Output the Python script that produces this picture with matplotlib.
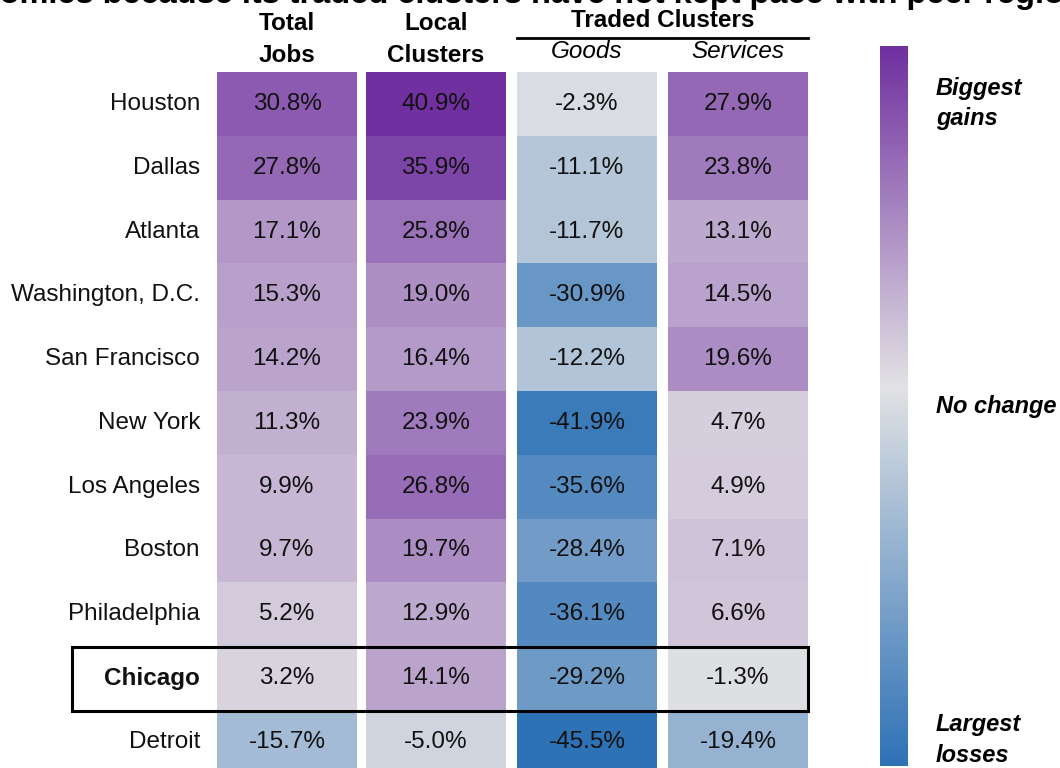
import numpy as np
import matplotlib
matplotlib.use("Agg")
import matplotlib.pyplot as plt
from matplotlib.colors import LinearSegmentedColormap, TwoSlopeNorm
from matplotlib.patches import Rectangle

plt.rcParams['font.family'] = ['Liberation Sans', 'DejaVu Sans']

cities = ["Houston", "Dallas", "Atlanta", "Washington, D.C.", "San Francisco",
          "New York", "Los Angeles", "Boston", "Philadelphia", "Chicago", "Detroit"]
total_jobs = [30.8, 27.8, 17.1, 15.3, 14.2, 11.3, 9.9, 9.7, 5.2, 3.2, -15.7]
local_clusters = [40.9, 35.9, 25.8, 19.0, 16.4, 23.9, 26.8, 19.7, 12.9, 14.1, -5.0]
traded_goods = [-2.3, -11.1, -11.7, -30.9, -12.2, -41.9, -35.6, -28.4, -36.1, -29.2, -45.5]
traded_services = [27.9, 23.8, 13.1, 14.5, 19.6, 4.7, 4.9, 7.1, 6.6, -1.3, -19.4]
highlight = "Chicago"

title = "economies because its traded clusters have not kept pace with peer regions"
legend_labels = [("Biggest", "gains"), ("No change",), ("Largest", "losses")]

columns = [total_jobs, local_clusters, traded_goods, traded_services]

cmap = LinearSegmentedColormap.from_list(
    "bp", [(0.0, "#2e72b6"), (0.5, "#e2e2e4"), (1.0, "#7030a0")])
norm = TwoSlopeNorm(vmin=-45.5, vcenter=0.0, vmax=40.9)

W, H = 1060, 768
fig = plt.figure(figsize=(W / 100, H / 100), dpi=100)
ax = fig.add_axes([0, 0, 1, 1])
ax.set_xlim(0, W)
ax.set_ylim(H, 0)
ax.axis("off")

FS = 17.5

# layout (pixels)
col_left = [217, 366, 517, 668]
col_w = 140
row_top0 = 72
row_h = 63.8

for j, vals in enumerate(columns):
    for i, v in enumerate(vals):
        y0 = row_top0 + i * row_h
        ax.add_patch(Rectangle((col_left[j], y0), col_w, row_h,
                               facecolor=cmap(norm(v)), edgecolor="none"))
        ax.text(col_left[j] + col_w / 2, y0 + row_h / 2, f"{v:.1f}%",
                ha="center", va="center", fontsize=FS, color="#111111")

for i, c in enumerate(cities):
    yc = row_top0 + (i + 0.5) * row_h
    ax.text(200, yc, c, ha="right", va="center", fontsize=FS,
            fontweight="bold" if c == highlight else "normal", color="#111111")

hi = cities.index(highlight)
ax.add_patch(Rectangle((72, row_top0 + hi * row_h + 1), 736, row_h, facecolor="none",
                       edgecolor="black", linewidth=2.2, zorder=5))

# headers
for j, (l1, l2) in enumerate([("Total", "Jobs"), ("Local", "Clusters")]):
    xc = col_left[j] + col_w / 2
    ax.text(xc, 23, l1, ha="center", va="center", fontsize=FS, fontweight="bold")
    ax.text(xc, 55, l2, ha="center", va="center", fontsize=FS, fontweight="bold")
ax.text((col_left[2] + col_left[3] + col_w) / 2, 20.5, "Traded Clusters", ha="center",
        va="center", fontsize=FS, fontweight="bold")
ax.plot([col_left[2], col_left[3] + col_w], [37.5, 37.5], color="black", lw=2)
ax.text(col_left[2] + col_w / 2, 52, "Goods", ha="center", va="center",
        fontsize=FS, style="italic")
ax.text(col_left[3] + col_w / 2, 52, "Services", ha="center", va="center",
        fontsize=FS, style="italic")

# title (cut off at top) - scale so visible part spans the figure width
renderer = fig.canvas.get_renderer()
tfs = 20
probe = ax.text(0, 0, "omics because its traded clusters have not kept pace with peer regio",
                fontsize=tfs, fontweight="bold")
wv = probe.get_window_extent(renderer).width
probe.remove()
tfs = tfs * 1062 / wv
probe = ax.text(0, 0, "econ", fontsize=tfs, fontweight="bold")
wp = probe.get_window_extent(renderer).width
probe.remove()
ax.text(-wp, 2.5, title, ha="left", va="baseline", fontsize=tfs, fontweight="bold")

# color legend bar
grad = np.linspace(40.9, -45.5, 400).reshape(-1, 1)
ax.imshow(grad, cmap=cmap, norm=norm, aspect="auto",
          extent=(880, 908, 766, 46), zorder=1)
ax.set_xlim(0, W)
ax.set_ylim(H, 0)
legend_y = [(88, 118), (406,), (725, 755)]
for lines, ys in zip(legend_labels, legend_y):
    for t, y in zip(lines, ys):
        ax.text(936, y, t, ha="left", va="center", fontsize=17,
                fontweight="bold", style="italic")

fig.savefig("out.png", dpi=100)
